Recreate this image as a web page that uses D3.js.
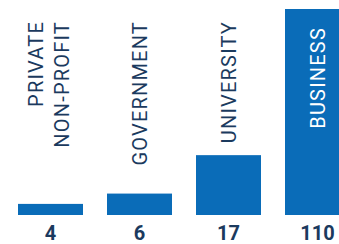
<!DOCTYPE html>
<html>
<head>
<meta charset="utf-8">
<script src="https://cdn.jsdelivr.net/npm/d3@7"></script>
<style>
  body { margin: 0; background: #fff; }
  text { font-family: Roboto, "Open Sans", sans-serif; }
</style>
</head>
<body>
<svg></svg>
<script>
// ### Data ###
var categories = ['PRIVATE\nNON-PROFIT', 'GOVERNMENT', 'UNIVERSITY', 'BUSINESS'];
var values = [4, 6, 17, 110];

// ### Setting up canvas ###
var width = 339;
var height = 244;
var margin = {top: 9, right: 0, bottom: 29, left: 18};
var svg = d3.select('svg')
			.attr('width', width)
			.attr('height', height)

var blue = '#0a6cb8';
var navy = '#1b3a5e';

// ### Scales ###
// step 89, bar 65 -> last bar runs past the right edge like the original
var xScale = d3.scaleBand()
				.domain(categories)
				.range([margin.left, 350])
				.paddingInner(24 / 89)
				.paddingOuter(0);

// bars in the original are not proportional, a shifted sqrt scale fits them
var yScale = d3.scaleSqrt()
				.domain([2.3, d3.max(values)])
				.range([height - margin.bottom, margin.top]);

// ### Bars ###
svg.selectAll('rect')
	.data(values)
	.enter()
	.append('rect')
	.attr('x', (d, i) => xScale(categories[i]))
	.attr('y', d => yScale(d))
	.attr('width', xScale.bandwidth())
	.attr('height', d => yScale(2.3) - yScale(d))
	.attr('fill', blue)

// ### Value labels ###
svg.selectAll('.value')
	.data(values)
	.enter()
	.append('text')
	.attr('class', 'value')
	.attr('x', (d, i) => xScale(categories[i]) + xScale.bandwidth() / 2)
	.attr('y', height - 4)
	.attr('text-anchor', 'middle')
	.attr('font-size', 20)
	.attr('font-weight', 'bold')
	.attr('fill', navy)
	.text(d => d)

// ### Category labels (rotated) ###
categories.forEach(function(c, i) {
	var lines = c.split('\n');
	var cx = xScale(c) + xScale.bandwidth() / 2;
	var inside = yScale(values[i]) < 60;
	var top = inside ? yScale(values[i]) + 18 : 21;
	lines.forEach(function(line, j) {
		var bx = cx + 7.5 + (j - (lines.length - 1)) * 26 + (lines.length - 1) * 11;
		svg.append('text')
			.attr('transform', `translate(${bx},${top}) rotate(-90)`)
			.attr('text-anchor', 'end')
			.attr('font-size', 20)
			.attr('letter-spacing', 1.2)
			.attr('fill', inside ? '#fff' : navy)
			.text(line)
	})
})
</script>
</body>
</html>
